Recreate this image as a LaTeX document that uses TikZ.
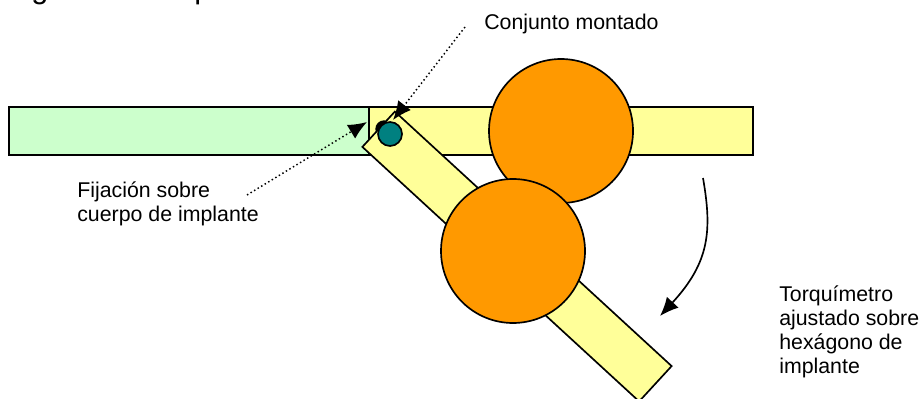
\documentclass[tikz,border=0pt]{standalone}
\usepackage{fontspec}
\setmainfont{Liberation Sans}
\usepackage{xcolor}
\usetikzlibrary{arrows.meta,positioning}
\definecolor{barG}{HTML}{CCFFCC}
\definecolor{barY}{HTML}{FFFF99}
\definecolor{knob}{HTML}{FF9900}
\definecolor{pin}{HTML}{008080}

\begin{document}
\begin{tikzpicture}[x=0.75pt, y=-0.75pt, font=\fontsize{16pt}{18pt}\selectfont, every node/.style={inner sep=0pt}]
        \tikzset{
            bar/.style={draw, line width=1.25pt, minimum height=36pt},
            disc/.style={draw, circle, line width=1.25pt, fill=knob, minimum size=108pt},
            lbl/.style={align=left, anchor=north west},
            lead/.style={dotted, line width=1.1pt, -{Latex[length=14pt, width=12pt]}},
            arr/.style={line width=1.25pt, -{Latex[length=14pt, width=12pt]}}
        }
        \useasboundingbox (0,0) rectangle (923,399);
        % cut-off title
        \node[anchor=base, font=\fontsize{23pt}{26pt}\selectfont] (ttlg) at (40,-1) {g};
        \node[anchor=base, font=\fontsize{23pt}{26pt}\selectfont] (ttlp) at (203,-1) {p};
        % bars and discs
        \node[bar, fill=barG, minimum width=270pt] (body) at (189,131) {};
        \node[bar, fill=barY, minimum width=288pt] (wrench) at (561,131) {};
        \node[disc] (knobA) at (561,131) {};
        \node[circle, fill=black, minimum size=13pt] (seat) at (384,129) {};
        \node[bar, fill=barY, minimum width=282pt, rotate=-42.6] (wrenchB) at (517,256.5) {};
        \node[disc] (knobB) at (513,251) {};
        \node[draw, circle, line width=1.25pt, fill=pin, minimum size=18pt] (screw) at (390,134) {};
        % labels
        \node[lbl] (conj) at (484,13.5) {Conjunto montado};
        \node[lbl] (fix) at (77,182) {Fijación sobre\\cuerpo de implante};
        \node[lbl] (torq) at (779,286) {Torquímetro\\ajustado sobre\\hexágono de\\implante};
        % connectors
        \coordinate (conjEnd) at (465,27);
        \coordinate (conjTip) at (393,120);
        \coordinate (fixEnd) at (247,195);
        \coordinate (fixTip) at (367,122);
        \coordinate (turnA) at (703,178);
        \coordinate (turnB) at (660,316);
        \draw[lead] (conjEnd) -- (conjTip);
        \draw[lead] (fixEnd) -- (fixTip);
        \draw[arr] (turnA) .. controls (712,230) and (710,262) .. (turnB);
    \end{tikzpicture}
\end{document}
